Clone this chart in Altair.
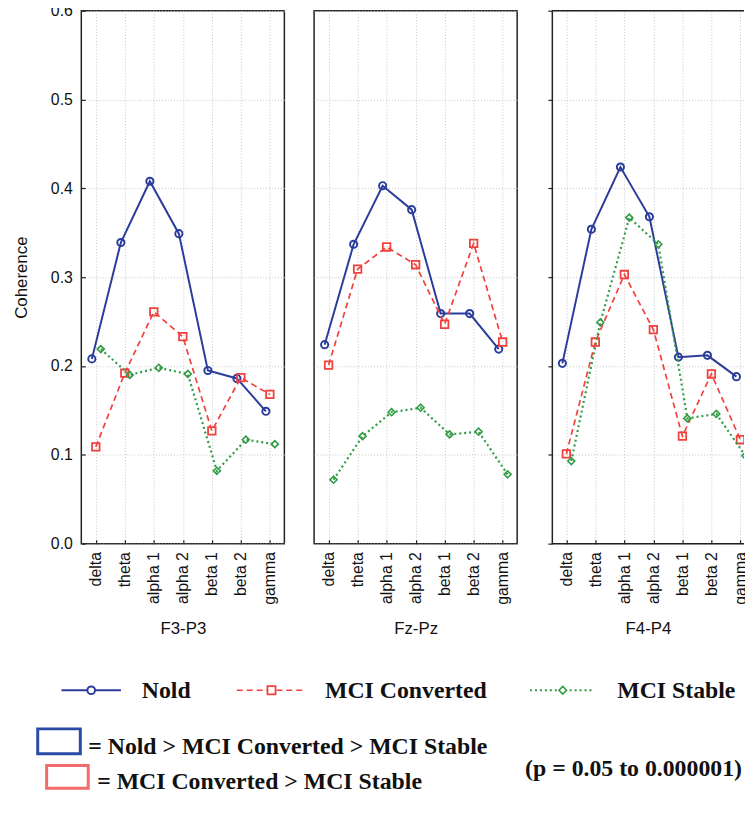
import altair as alt
import pandas as pd

# ---------------- data ----------------
bands = ["delta", "theta", "alpha 1", "alpha 2", "beta 1", "beta 2", "gamma"]
series = ["Nold", "MCI Converted", "MCI Stable"]
panels = ["F3-P3", "Fz-Pz", "F4-P4"]

f3p3_nold = [0.208, 0.339, 0.408, 0.349, 0.195, 0.186, 0.149]
f3p3_conv = [0.109, 0.192, 0.261, 0.233, 0.127, 0.187, 0.168]
f3p3_stab = [0.219, 0.190, 0.198, 0.191, 0.082, 0.117, 0.112]

fzpz_nold = [0.224, 0.337, 0.403, 0.376, 0.259, 0.259, 0.219]
fzpz_conv = [0.201, 0.309, 0.334, 0.314, 0.247, 0.338, 0.227]
fzpz_stab = [0.072, 0.121, 0.148, 0.153, 0.123, 0.126, 0.078]

f4p4_nold = [0.203, 0.354, 0.424, 0.368, 0.210, 0.212, 0.188]
f4p4_conv = [0.101, 0.227, 0.303, 0.241, 0.121, 0.191, 0.117]
f4p4_stab = [0.093, 0.249, 0.367, 0.337, 0.141, 0.146, 0.099]

y_tick_values = [0.0, 0.1, 0.2, 0.3, 0.4, 0.5, 0.6]
key_labels = ["= Nold > MCI Converted > MCI Stable", "= MCI Converted > MCI Stable"]
p_note = "(p = 0.05 to 0.000001)"

panel_values = {
    "F3-P3": [f3p3_nold, f3p3_conv, f3p3_stab],
    "Fz-Pz": [fzpz_nold, fzpz_conv, fzpz_stab],
    "F4-P4": [f4p4_nold, f4p4_conv, f4p4_stab],
}

rows = []
for p in panels:
    for s, vals in zip(series, panel_values[p]):
        for b, v in zip(bands, vals):
            rows.append({"panel": p, "series": s, "band": b, "value": v})
df = pd.DataFrame(rows)

# ---------------- styles ----------------
SANS = "Liberation Sans"
SERIF = "Liberation Serif"
FRAME = "#222222"
GRID = "#c4c4c4"

STYLE = {
    "Nold": dict(color="#2b3d9b", dash=None, shape="circle", dx=-4, size=52, sw=2.0, msw=2.0),
    "MCI Converted": dict(color="#f2413d", dash=[6, 4], shape="square", dx=0, size=58, sw=1.7, msw=1.8),
    "MCI Stable": dict(color="#2f9b42", dash=[2, 3], shape="diamond", dx=5, size=50, sw=2.2, msw=1.6),
}

PANEL_W = 205
PANEL_H = 538
LAST_W = 194          # the right-hand panel is cut by the page edge, as in the source image
y_scale = alt.Scale(domain=[0, 0.6], nice=False, zero=True)

# full panels: point scale with half-step outer padding
x_scale_full = alt.Scale(type="point", domain=bands, padding=0.5)
# cut panel: same step and same first position, remaining outer padding pushed past the cut
_step = PANEL_W / len(bands)
_left = LAST_W - (len(bands) - 1) * _step
x_scale_cut = alt.Scale(type="point", domain=bands, padding=_left / (2 * _step),
                        align=(0.5 * _step) / _left)


def make_panel(i, name):
    d = df[df["panel"] == name]
    last = i == len(panels) - 1
    x_scale = x_scale_cut if last else x_scale_full

    x_axis = alt.Axis(
        orient="bottom", title=name, labelAngle=270, labelFont=SANS, labelFontSize=16,
        labelColor="#111111", labelPadding=8, titleFont=SANS, titleFontSize=17,
        titleFontWeight="normal", titleColor="#111111", titlePadding=16,
        domain=False, ticks=True, tickSize=4, offset=-4, tickColor=FRAME, tickWidth=1.2,
        grid=True, gridColor=GRID, gridDash=[1, 2], gridWidth=1,
    )
    if i == 0:
        y_axis = alt.Axis(
            orient="left", title="Coherence", values=y_tick_values, format=".1f",
            labelFont=SANS, labelFontSize=16, labelColor="#111111", labelPadding=9,
            titleFont=SANS, titleFontSize=17, titleFontWeight="normal", titleColor="#111111",
            titlePadding=20, domain=False, ticks=True, tickSize=4, offset=-4,
            tickColor=FRAME, tickWidth=1.2,
            grid=True, gridColor=GRID, gridDash=[1, 2], gridWidth=1,
        )
    elif i == 1:
        y_axis = alt.Axis(
            orient="left", title=None, values=y_tick_values, labels=False, ticks=False,
            domain=False, grid=True, gridColor=GRID, gridDash=[1, 2], gridWidth=1,
        )
    else:
        y_axis = alt.Axis(
            orient="left", title=None, values=y_tick_values, labels=False, ticks=True,
            tickSize=4, tickColor=FRAME, tickWidth=1.2,
            domain=True, domainColor=FRAME, domainWidth=1.5,
            grid=True, gridColor=GRID, gridDash=[1, 2], gridWidth=1,
        )

    X = alt.X("band:N", sort=bands, scale=x_scale, axis=x_axis)
    Y = alt.Y("value:Q", scale=y_scale, axis=y_axis)

    layers = []
    for s in series:
        st = STYLE[s]
        sub = alt.Chart(d).transform_filter(alt.datum.series == s)
        line_kw = dict(color=st["color"], strokeWidth=st["sw"], xOffset=st["dx"], clip=True)
        if st["dash"]:
            line_kw["strokeDash"] = st["dash"]
        layers.append(sub.mark_line(**line_kw).encode(x=X, y=Y))
        layers.append(
            sub.mark_point(shape=st["shape"], size=st["size"], filled=False, color=st["color"],
                           strokeWidth=st["msw"], opacity=1, xOffset=st["dx"],
                           clip=True).encode(x=X, y=Y)
        )

    if last:
        # top and bottom edges of the frame; the right edge lies beyond the page
        one = pd.DataFrame({"k": [0]})
        layers.append(alt.Chart(one).mark_rule(color=FRAME, strokeWidth=1.5).encode(y=alt.value(0)))
        layers.append(alt.Chart(one).mark_rule(color=FRAME, strokeWidth=1.5).encode(y=alt.value(PANEL_H)))
        view = alt.ViewBackground(stroke="transparent")
        w = LAST_W
    else:
        view = alt.ViewBackground(stroke=FRAME, strokeWidth=1.5)
        w = PANEL_W
    return alt.layer(*layers).properties(width=w, height=PANEL_H, view=view)


top = alt.hconcat(*[make_panel(i, p) for i, p in enumerate(panels)], spacing=28)

# ---------------- custom legend ----------------
LEG_LEFT = 82
LEG_TOP = 659


def lx(v):
    return v - LEG_LEFT


def ly(v):
    return v - LEG_TOP


legend_layout = {
    "Nold": dict(x1=62, x2=122, xm=92, xt=143),
    "MCI Converted": dict(x1=239, x2=307, xm=274, xt=328),
    "MCI Stable": dict(x1=535, x2=600, xm=568, xt=623),
}
ROW1_MID = 701
ROW1_BASE = 709

legend_layers = []
for s in series:
    st = STYLE[s]
    lay = legend_layout[s]
    one = pd.DataFrame({"series": [s]})
    rule_kw = dict(color=st["color"], strokeWidth=st["sw"])
    if st["dash"]:
        rule_kw["strokeDash"] = st["dash"]
    legend_layers.append(
        alt.Chart(one).mark_rule(**rule_kw).encode(
            x=alt.value(lx(lay["x1"])), x2=alt.value(lx(lay["x2"])), y=alt.value(ly(ROW1_MID))
        )
    )
    legend_layers.append(
        alt.Chart(one).mark_point(shape=st["shape"], size=st["size"] + 8, filled=True,
                                  fill="white", stroke=st["color"], strokeWidth=st["msw"],
                                  opacity=1).encode(
            x=alt.value(lx(lay["xm"])), y=alt.value(ly(ROW1_MID))
        )
    )
    legend_layers.append(
        alt.Chart(one).mark_text(align="left", baseline="alphabetic", font=SERIF, fontSize=24,
                                 fontWeight="bold", color="#111111").encode(
            x=alt.value(lx(lay["xt"])), y=alt.value(ly(ROW1_BASE)), text="series:N"
        )
    )

key_layout = [
    dict(color="#2b4aa6", x1=38, x2=81, y1=740, y2=765, xt=89, base=765),
    dict(color="#f26a6a", x1=47, x2=89, y1=777, y2=800, xt=98, base=801),
]
for lab, kl in zip(key_labels, key_layout):
    one = pd.DataFrame({"label": [lab]})
    legend_layers.append(
        alt.Chart(one).mark_rect(fillOpacity=0, stroke=kl["color"], strokeWidth=3).encode(
            x=alt.value(lx(kl["x1"])), x2=alt.value(lx(kl["x2"])),
            y=alt.value(ly(kl["y1"])), y2=alt.value(ly(kl["y2"])),
        )
    )
    legend_layers.append(
        alt.Chart(one).mark_text(align="left", baseline="alphabetic", font=SERIF, fontSize=24,
                                 fontWeight="bold", color="#111111").encode(
            x=alt.value(lx(kl["xt"])), y=alt.value(ly(kl["base"])), text="label:N"
        )
    )

note_df = pd.DataFrame({"note": [p_note]})
legend_layers.append(
    alt.Chart(note_df).mark_text(align="left", baseline="alphabetic", font=SERIF, fontSize=24,
                                 fontWeight="bold", color="#111111").encode(
        x=alt.value(lx(530)), y=alt.value(ly(788)), text="note:N"
    )
)

legend = alt.layer(*legend_layers).properties(
    width=640, height=130, view=alt.ViewBackground(stroke="transparent")
)

chart = alt.vconcat(top, legend, spacing=10).properties(
    padding={"left": 4, "top": -10, "right": -4, "bottom": -5},
    background="white",
).configure_view(stroke="transparent")

chart.save("out.html", embed_options={"renderer": "svg", "actions": False})
